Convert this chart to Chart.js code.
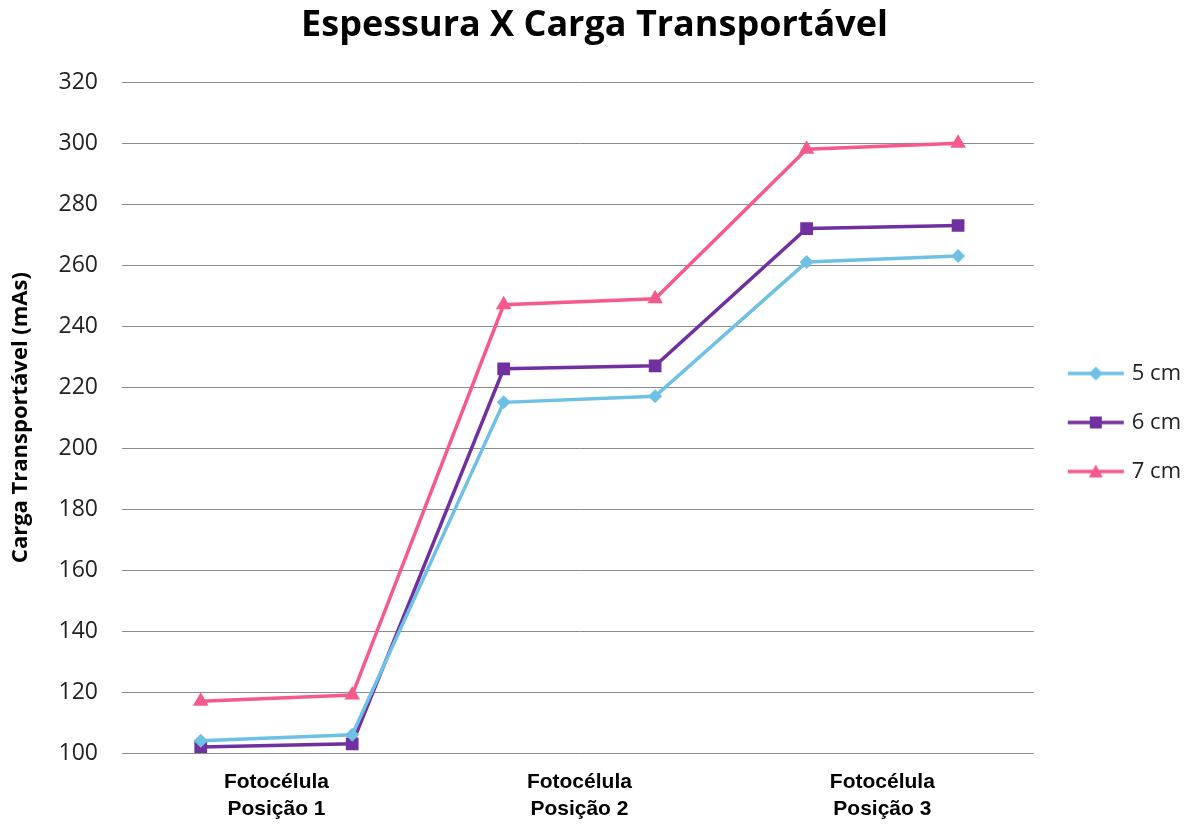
<!DOCTYPE html>
<html lang="pt">
<head>
    <meta charset="UTF-8">
    <title>Espessura X Carga Transportável</title>
    <script src="https://cdn.jsdelivr.net/npm/chart.js"></script>
    <style>
        body { margin: 0; background: #fff; }
        #wrap { width: 1195px; height: 825px; }
    </style>
</head>
<body>
    <div id="wrap"><canvas id="chart" width="1195" height="825"></canvas></div>
    <script>
        // data
        const groupLabels = [['Fotocélula', 'Posição 1'], ['Fotocélula', 'Posição 2'], ['Fotocélula', 'Posição 3']];
        const pointIndex = [0, 1, 2, 3, 4, 5];
        const serie5cm = [104, 106, 215, 217, 261, 263];
        const serie6cm = [102, 103, 226, 227, 272, 273];
        const serie7cm = [117, 119, 247, 249, 298, 300];
        const yTicks = [100, 120, 140, 160, 180, 200, 220, 240, 260, 280, 300, 320];

        const sansFont = "'Open Sans', 'Noto Sans', sans-serif";

        function toPoints(values) {
            return values.map((v, i) => ({ x: pointIndex[i], y: v }));
        }

        // legend icon: short line with the marker in the middle
        function legendIcon(color, style) {
            const c = document.createElement('canvas');
            c.width = 58; c.height = 18;
            const g = c.getContext('2d');
            g.strokeStyle = color;
            g.lineWidth = 3.5;
            g.beginPath(); g.moveTo(1, 9); g.lineTo(57, 9); g.stroke();
            g.fillStyle = color;
            g.beginPath();
            if (style === 'rectRot') {
                g.moveTo(29, 2); g.lineTo(36, 9); g.lineTo(29, 16); g.lineTo(22, 9);
            } else if (style === 'rect') {
                g.rect(23, 3, 12, 12);
            } else {
                g.moveTo(29, 2); g.lineTo(36, 15); g.lineTo(22, 15);
            }
            g.closePath(); g.fill();
            return c;
        }

        const seriesInfo = [
            { label: '5 cm', data: serie5cm, color: '#6fc0e5', style: 'rectRot', radius: 7 },
            { label: '6 cm', data: serie6cm, color: '#7030a0', style: 'rect', radius: 9 },
            { label: '7 cm', data: serie7cm, color: '#f65a8a', style: 'triangle', radius: 9 }
        ];

        const datasets = seriesInfo.map(s => ({
            label: s.label,
            data: toPoints(s.data),
            borderColor: s.color,
            backgroundColor: s.color,
            borderWidth: 3.5,
            pointStyle: s.style,
            pointRadius: s.radius,
            pointBorderWidth: 0,
            pointHoverRadius: s.radius,
            tension: 0
        }));

        // nudge the legend a little, like the original
        const legendShift = {
            id: 'legendShift',
            afterLayout(chart) {
                chart.legend.left += 10;
                chart.legend.right += 10;
                chart.legend.top += 11;
                chart.legend.bottom += 11;
            }
        };

        new Chart(document.getElementById('chart'), {
            type: 'line',
            data: { datasets: datasets },
            plugins: [legendShift],
            options: {
                responsive: false,
                animation: false,
                layout: { padding: { left: 8, right: 14, top: 0, bottom: 2 } },
                plugins: {
                    title: {
                        display: true,
                        text: 'Espessura X Carga Transportável',
                        color: '#000',
                        font: { family: sansFont, size: 36, weight: 'bold' },
                        padding: { top: 4, bottom: 35 }
                    },
                    legend: {
                        position: 'right',
                        labels: {
                            usePointStyle: true,
                            pointStyleWidth: 50,
                            padding: 27,
                            color: '#222',
                            font: { family: sansFont, size: 22 },
                            generateLabels: function(chart) {
                                const items = Chart.defaults.plugins.legend.labels.generateLabels(chart);
                                items.forEach((it, i) => {
                                    it.pointStyle = legendIcon(seriesInfo[i].color, seriesInfo[i].style);
                                });
                                return items;
                            }
                        }
                    },
                    tooltip: { enabled: false }
                },
                scales: {
                    x: {
                        type: 'linear',
                        min: -0.5,
                        max: 5.5,
                        grid: { display: false, drawTicks: false, tickLength: 0 },
                        border: { display: false },
                        afterBuildTicks: function(scale) {
                            scale.ticks = [0.5, 2.5, 4.5].map(v => ({ value: v }));
                        },
                        afterFit: function(scale) { scale.height = 70; },
                        ticks: {
                            autoSkip: false,
                            maxRotation: 0,
                            padding: 16,
                            color: '#000',
                            font: { family: "'Liberation Sans', Arial, sans-serif", size: 21, weight: 'bold', lineHeight: 1.29 },
                            callback: function(value) {
                                return groupLabels[Math.round((value - 0.5) / 2)];
                            }
                        }
                    },
                    y: {
                        min: 100,
                        max: 320,
                        afterBuildTicks: function(scale) {
                            scale.ticks = yTicks.map(v => ({ value: v }));
                        },
                        afterFit: function(scale) { scale.width = 117; },
                        border: { display: false },
                        grid: { color: '#8c8c8c', lineWidth: 1, tickLength: 3 },
                        ticks: {
                            padding: 24,
                            color: '#222',
                            font: { family: sansFont, size: 23 }
                        },
                        title: {
                            display: true,
                            text: 'Carga Transportável (mAs)',
                            color: '#000',
                            font: { family: sansFont, size: 22, weight: 'bold' },
                            padding: { top: 0, bottom: 4 }
                        }
                    }
                }
            }
        });
    </script>
</body>
</html>
